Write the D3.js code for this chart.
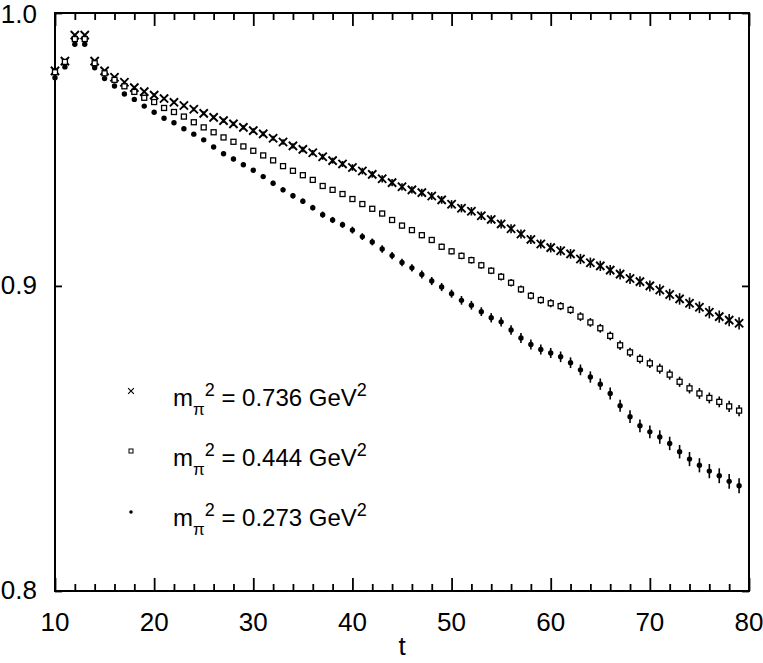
<!DOCTYPE html>
<html>
<head>
<meta charset="utf-8">
<script src="https://cdn.jsdelivr.net/npm/d3@7"></script>
<style>
body { margin: 0; background: #fff; }
text { font-family: "Liberation Sans", Arial, Helvetica, sans-serif; fill: #000; }
</style>
</head>
<body>
<svg width="763" height="663"></svg>
<script>
// time slices
var tVals = [10, 11, 12, 13, 14, 15, 16, 17, 18, 19,
	20, 21, 22, 23, 24, 25, 26, 27, 28, 29,
	30, 31, 32, 33, 34, 35, 36, 37, 38, 39,
	40, 41, 42, 43, 44, 45, 46, 47, 48, 49,
	50, 51, 52, 53, 54, 55, 56, 57, 58, 59,
	60, 61, 62, 63, 64, 65, 66, 67, 68, 69,
	70, 71, 72, 73, 74, 75, 76, 77, 78, 79];

// m_pi^2 = 0.736 GeV^2 (crosses)
var heavy = [0.9779, 0.9816, 0.9915, 0.9915, 0.9816, 0.9779, 0.9755, 0.9736, 0.9716, 0.9701,
	0.9688, 0.9675, 0.9661, 0.9649, 0.9635, 0.9620, 0.9605, 0.9593, 0.9581, 0.9568,
	0.9556, 0.9544, 0.9528, 0.9514, 0.9500, 0.9487, 0.9475, 0.9460, 0.9446, 0.9434,
	0.9421, 0.9408, 0.9396, 0.9380, 0.9366, 0.9351, 0.9340, 0.9330, 0.9318, 0.9304,
	0.9288, 0.9274, 0.9263, 0.9247, 0.9234, 0.9218, 0.9201, 0.9182, 0.9163, 0.9147,
	0.9134, 0.9123, 0.9112, 0.9094, 0.9081, 0.9070, 0.9055, 0.9041, 0.9026, 0.9015,
	0.9000, 0.8986, 0.8970, 0.8955, 0.8940, 0.8926, 0.8909, 0.8894, 0.8882, 0.8871];
var heavyErr = [0.0004, 0.0004, 0.0004, 0.0004, 0.0004, 0.0004, 0.0004, 0.0004, 0.0004, 0.0004,
	0.0006, 0.0006, 0.0006, 0.0007, 0.0007, 0.0007, 0.0007, 0.0008, 0.0008, 0.0008,
	0.0009, 0.0009, 0.0009, 0.0010, 0.0010, 0.0010, 0.0010, 0.0011, 0.0011, 0.0011,
	0.0012, 0.0012, 0.0012, 0.0013, 0.0013, 0.0013, 0.0013, 0.0014, 0.0014, 0.0014,
	0.0015, 0.0015, 0.0015, 0.0015, 0.0015, 0.0016, 0.0016, 0.0016, 0.0016, 0.0016,
	0.0017, 0.0017, 0.0017, 0.0018, 0.0018, 0.0018, 0.0018, 0.0019, 0.0019, 0.0019,
	0.0019, 0.0020, 0.0020, 0.0020, 0.0020, 0.0020, 0.0021, 0.0021, 0.0021, 0.0021];

// m_pi^2 = 0.444 GeV^2 (open squares)
var middle = [0.9774, 0.9813, 0.9900, 0.9900, 0.9808, 0.9770, 0.9745, 0.9721, 0.9700, 0.9678,
	0.9662, 0.9640, 0.9625, 0.9608, 0.9587, 0.9568, 0.9550, 0.9531, 0.9515, 0.9498,
	0.9482, 0.9465, 0.9447, 0.9426, 0.9409, 0.9393, 0.9376, 0.9354, 0.9340, 0.9325,
	0.9307, 0.9289, 0.9272, 0.9255, 0.9232, 0.9212, 0.9196, 0.9178, 0.9161, 0.9137,
	0.9121, 0.9105, 0.9090, 0.9072, 0.9053, 0.9032, 0.9011, 0.8988, 0.8966, 0.8951,
	0.8940, 0.8930, 0.8917, 0.8894, 0.8874, 0.8854, 0.8828, 0.8796, 0.8772, 0.8750,
	0.8735, 0.8717, 0.8697, 0.8673, 0.8651, 0.8634, 0.8619, 0.8606, 0.8591, 0.8577];
var middleErr = [0.0002, 0.0002, 0.0003, 0.0003, 0.0003, 0.0003, 0.0003, 0.0004, 0.0004, 0.0004,
	0.0005, 0.0005, 0.0005, 0.0005, 0.0005, 0.0006, 0.0006, 0.0006, 0.0006, 0.0006,
	0.0006, 0.0007, 0.0007, 0.0007, 0.0007, 0.0007, 0.0008, 0.0008, 0.0008, 0.0008,
	0.0009, 0.0009, 0.0009, 0.0010, 0.0010, 0.0010, 0.0010, 0.0011, 0.0011, 0.0011,
	0.0011, 0.0012, 0.0012, 0.0012, 0.0012, 0.0013, 0.0013, 0.0013, 0.0013, 0.0013,
	0.0014, 0.0014, 0.0014, 0.0015, 0.0015, 0.0015, 0.0015, 0.0016, 0.0016, 0.0016,
	0.0016, 0.0017, 0.0017, 0.0017, 0.0017, 0.0018, 0.0018, 0.0018, 0.0019, 0.0019];

// m_pi^2 = 0.273 GeV^2 (filled dots)
var light = [0.9753, 0.9794, 0.9880, 0.9880, 0.9791, 0.9750, 0.9722, 0.9692, 0.9672, 0.9647,
	0.9624, 0.9602, 0.9585, 0.9563, 0.9543, 0.9522, 0.9496, 0.9471, 0.9452, 0.9431,
	0.9411, 0.9388, 0.9364, 0.9340, 0.9319, 0.9299, 0.9276, 0.9251, 0.9232, 0.9215,
	0.9196, 0.9173, 0.9154, 0.9129, 0.9106, 0.9082, 0.9063, 0.9040, 0.9017, 0.8996,
	0.8973, 0.8950, 0.8933, 0.8911, 0.8890, 0.8876, 0.8848, 0.8821, 0.8799, 0.8782,
	0.8770, 0.8757, 0.8737, 0.8713, 0.8689, 0.8665, 0.8634, 0.8593, 0.8557, 0.8527,
	0.8507, 0.8490, 0.8469, 0.8442, 0.8418, 0.8398, 0.8379, 0.8364, 0.8346, 0.8332];
var lightErr = [0.0003, 0.0003, 0.0003, 0.0003, 0.0003, 0.0004, 0.0004, 0.0004, 0.0005, 0.0005,
	0.0005, 0.0006, 0.0006, 0.0006, 0.0007, 0.0007, 0.0007, 0.0008, 0.0008, 0.0008,
	0.0008, 0.0009, 0.0009, 0.0009, 0.0010, 0.0010, 0.0010, 0.0011, 0.0011, 0.0011,
	0.0012, 0.0012, 0.0012, 0.0013, 0.0013, 0.0013, 0.0013, 0.0014, 0.0014, 0.0014,
	0.0014, 0.0015, 0.0015, 0.0015, 0.0016, 0.0016, 0.0016, 0.0017, 0.0017, 0.0017,
	0.0017, 0.0018, 0.0018, 0.0018, 0.0019, 0.0019, 0.0020, 0.0020, 0.0021, 0.0021,
	0.0021, 0.0022, 0.0022, 0.0022, 0.0023, 0.0023, 0.0023, 0.0024, 0.0024, 0.0024];

var xTicks = [10, 20, 30, 40, 50, 60, 70, 80];
var xMinorTicks = [12, 14, 16, 18, 22, 24, 26, 28, 32, 34, 36, 38, 42, 44, 46, 48,
	52, 54, 56, 58, 62, 64, 66, 68, 72, 74, 76, 78];
var yTicks = [0.8, 0.9, 1.0];
var legendLabels = ['0.736', '0.444', '0.273'];

var svg = d3.select('svg'),
	margin = {top: 13, right: 14, bottom: 72, left: 55},
	width = 763 - margin.left - margin.right,
	height = 663 - margin.top - margin.bottom,
	g = svg.append('g').attr('transform', 'translate(' + margin.left + ',' + margin.top + ')');

var x = d3.scaleLinear().domain([10, 80]).range([0, width]);
var y = d3.scaleLog().domain([0.8, 1.0]).range([height, 0]); // log scale on the ratio

// frame ticks (inward)
function tickAxis(axis, size) {
	return function(sel) {
		sel.call(axis.tickSize(size).tickFormat(''));
		sel.select('.domain').remove();
		sel.selectAll('line').attr('stroke', '#000').attr('stroke-width', 1.8);
	};
}
g.append('g').attr('transform', 'translate(0,' + height + ')')
	.call(tickAxis(d3.axisTop(x).tickValues(xTicks), 13));
g.append('g').attr('transform', 'translate(0,' + height + ')')
	.call(tickAxis(d3.axisTop(x).tickValues(xMinorTicks), 7));
g.append('g')
	.call(tickAxis(d3.axisBottom(x).tickValues(xTicks), 13));
g.append('g')
	.call(tickAxis(d3.axisBottom(x).tickValues(xMinorTicks), 7));
g.append('g')
	.call(tickAxis(d3.axisRight(y).tickValues(yTicks), 7));
g.append('g').attr('transform', 'translate(' + width + ',0)')
	.call(tickAxis(d3.axisLeft(y).tickValues(yTicks), 7));

g.append('rect')
	.attr('width', width).attr('height', height)
	.attr('fill', 'none').attr('stroke', '#000').attr('stroke-width', 2);

// tick labels
g.selectAll('.xlab').data(xTicks).enter().append('text')
	.attr('x', function(d) { return x(d); })
	.attr('y', height + 40)
	.attr('text-anchor', 'middle')
	.style('font-size', '26px')
	.text(function(d) { return d; });
g.selectAll('.ylab').data(yTicks).enter().append('text')
	.attr('x', -18)
	.attr('y', function(d) { return Math.max(y(d) + 8, 10); })
	.attr('text-anchor', 'end')
	.style('font-size', '26px')
	.text(function(d) { return d3.format('.1f')(d); });
g.append('text')
	.attr('x', width / 2).attr('y', height + 64)
	.attr('text-anchor', 'middle')
	.style('font-size', '26px')
	.text('t');

function rows(vals, errs) {
	return tVals.map(function(t, i) { return {t: t, v: vals[i], e: errs[i]}; });
}
function errorBars(data) {
	g.append('g').selectAll('line').data(data).enter().append('line')
		.attr('x1', function(d) { return x(d.t); })
		.attr('x2', function(d) { return x(d.t); })
		.attr('y1', function(d) { return y(d.v - d.e); })
		.attr('y2', function(d) { return y(d.v + d.e); })
		.attr('stroke', '#000').attr('stroke-width', 1.6);
}

var crossPath = d3.symbol().type(d3.symbolX).size(46);
var heavyRows = rows(heavy, heavyErr),
	middleRows = rows(middle, middleErr),
	lightRows = rows(light, lightErr);

errorBars(heavyRows);
errorBars(middleRows);
errorBars(lightRows);

g.append('g').selectAll('path').data(heavyRows).enter().append('path')
	.attr('transform', function(d) { return 'translate(' + x(d.t) + ',' + y(d.v) + ')'; })
	.attr('d', crossPath)
	.attr('fill', 'none').attr('stroke', '#000').attr('stroke-width', 1.9);

g.append('g').selectAll('rect').data(middleRows).enter().append('rect')
	.attr('x', function(d) { return x(d.t) - 2.5; })
	.attr('y', function(d) { return y(d.v) - 2.5; })
	.attr('width', 5).attr('height', 5)
	.attr('fill', '#fff').attr('stroke', '#000').attr('stroke-width', 1.3);

g.append('g').selectAll('circle').data(lightRows).enter().append('circle')
	.attr('cx', function(d) { return x(d.t); })
	.attr('cy', function(d) { return y(d.v); })
	.attr('r', 2.7)
	.attr('fill', '#000');

// legend
var lg = svg.append('g').attr('transform', 'translate(131,391)');
lg.append('path').attr('d', d3.symbol().type(d3.symbolX).size(24))
	.attr('fill', 'none').attr('stroke', '#000').attr('stroke-width', 1.1);
lg.append('rect').attr('x', -2).attr('y', 58).attr('width', 4).attr('height', 4)
	.attr('fill', '#fff').attr('stroke', '#000').attr('stroke-width', 1);
lg.append('circle').attr('cx', 0).attr('cy', 121).attr('r', 1.8).attr('fill', '#000');

legendLabels.forEach(function(lab, i) {
	var tx = lg.append('text')
		.attr('x', 42).attr('y', 15 + i * 60)
		.style('font-size', '24px');
	tx.append('tspan').text('m');
	tx.append('tspan').attr('dy', 9).style('font-size', '17px').text('\u03c0');
	tx.append('tspan').attr('dy', -19).style('font-size', '18px').text('2');
	tx.append('tspan').attr('dy', 10).text(' = ' + lab + ' GeV');
	tx.append('tspan').attr('dy', -10).style('font-size', '18px').text('2');
});
</script>
</body>
</html>
